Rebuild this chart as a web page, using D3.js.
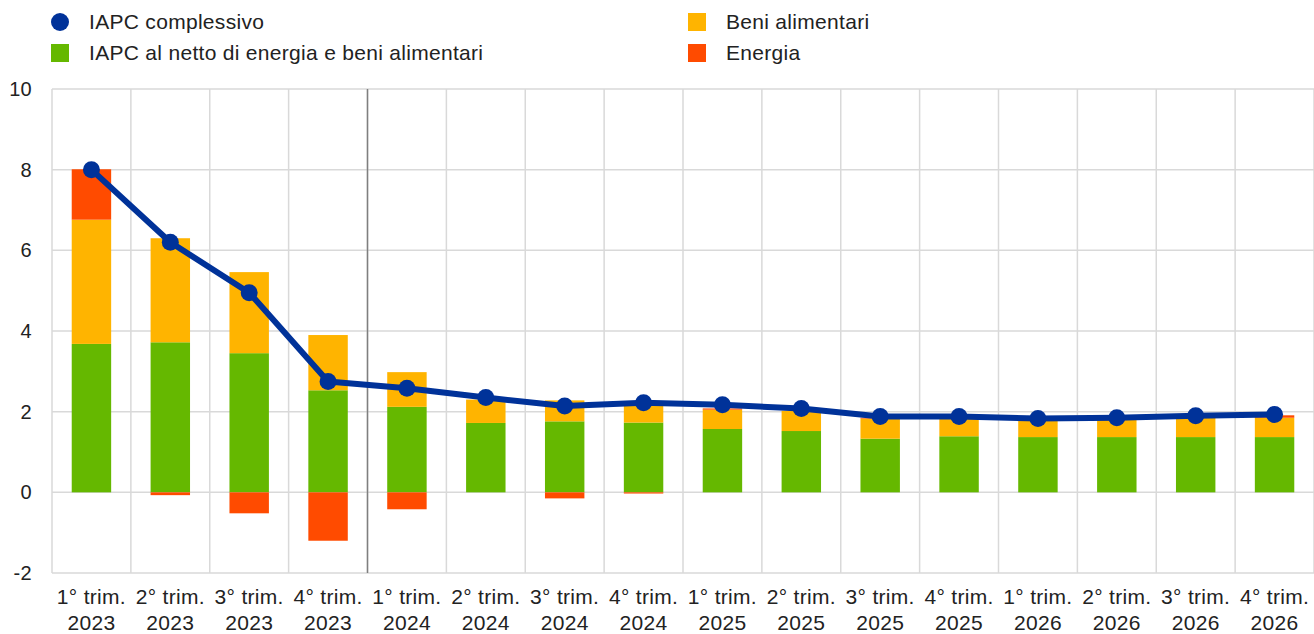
<!DOCTYPE html>
<html>
<head>
<meta charset="utf-8">
<script src="https://cdn.jsdelivr.net/npm/d3@7"></script>
<style>
  body { margin: 0; background: #fff; }
  svg text { font-family: "Liberation Sans", Arial, sans-serif; fill: #222; letter-spacing: 0.3px; }
</style>
</head>
<body>
<svg id="chart"></svg>
<script>
const quarters = ["1° trim.", "2° trim.", "3° trim.", "4° trim.",
  "1° trim.", "2° trim.", "3° trim.", "4° trim.",
  "1° trim.", "2° trim.", "3° trim.", "4° trim.",
  "1° trim.", "2° trim.", "3° trim.", "4° trim."];
const years = ["2023", "2023", "2023", "2023", "2024", "2024", "2024", "2024",
  "2025", "2025", "2025", "2025", "2026", "2026", "2026", "2026"];
const core = [3.68, 3.72, 3.45, 2.53, 2.12, 1.72, 1.76, 1.73, 1.57, 1.52, 1.33, 1.39, 1.37, 1.37, 1.37, 1.37];
const food = [3.08, 2.58, 2.01, 1.37, 0.86, 0.58, 0.52, 0.47, 0.48, 0.5, 0.5, 0.47, 0.43, 0.45, 0.5, 0.48];
const energy = [1.25, -0.07, -0.52, -1.2, -0.42, 0, -0.15, -0.03, 0.03, 0, 0.02, 0, 0, 0, 0, 0.06];
const headline = [8.0, 6.2, 4.95, 2.75, 2.58, 2.35, 2.14, 2.22, 2.17, 2.08, 1.88, 1.88, 1.83, 1.85, 1.9, 1.93];
const yTicks = [-2, 0, 2, 4, 6, 8, 10];

const W = 1314, H = 634;
const margin = { top: 89, right: 0, bottom: 61, left: 52 };
const width = W - margin.left - margin.right,
  height = H - margin.top - margin.bottom;

const colors = { headline: "#003299", core: "#65B800", food: "#FFB400", energy: "#FF4B00" };

const svg = d3.select("#chart").attr("width", W).attr("height", H);
const g = svg.append("g").attr("transform", `translate(${margin.left},${margin.top})`);

const idx = d3.range(quarters.length);
const x = d3.scaleBand().domain(idx).range([0, width]).paddingInner(0.5).paddingOuter(0.25);
const y = d3.scaleLinear().domain([-2, 10]).range([height, 0]);
const step = x.step();

// griglia
yTicks.forEach((t) => {
  g.append("line").attr("x1", 0).attr("x2", width)
    .attr("y1", y(t)).attr("y2", y(t))
    .attr("stroke", "#d9d9d9").attr("stroke-width", 1.5);
  g.append("text").attr("x", -20).attr("y", y(t)).attr("dy", "0.35em")
    .attr("text-anchor", "end").attr("font-size", "20px").text(t);
});
d3.range(quarters.length + 1).forEach((i) => {
  g.append("line").attr("x1", i * step).attr("x2", i * step)
    .attr("y1", 0).attr("y2", height)
    .attr("stroke", "#d9d9d9").attr("stroke-width", 1.5);
});
// separatore proiezioni
g.append("line").attr("x1", 4 * step).attr("x2", 4 * step)
  .attr("y1", 0).attr("y2", height)
  .attr("stroke", "#7f7f7f").attr("stroke-width", 1.5);

// barre impilate
idx.forEach((i) => {
  const parts = [["core", core[i]], ["food", food[i]], ["energy", energy[i]]];
  let pos = 0, neg = 0;
  parts.forEach(([k, v]) => {
    if (v === 0) return;
    let y0, y1;
    if (v > 0) { y0 = pos; y1 = pos + v; pos = y1; }
    else { y0 = neg; y1 = neg + v; neg = y1; }
    g.append("rect")
      .attr("x", x(i)).attr("width", x.bandwidth())
      .attr("y", y(Math.max(y0, y1)))
      .attr("height", Math.abs(y(y0) - y(y1)))
      .attr("fill", colors[k]);
  });
});

// linea IAPC complessivo
const line = d3.line().x((d, i) => x(i) + x.bandwidth() / 2).y((d) => y(d));
g.append("path").datum(headline).attr("d", line)
  .attr("fill", "none").attr("stroke", colors.headline).attr("stroke-width", 6)
  .attr("stroke-linejoin", "round");
g.selectAll(".dot").data(headline).enter().append("circle")
  .attr("cx", (d, i) => x(i) + x.bandwidth() / 2).attr("cy", (d) => y(d))
  .attr("r", 8.5).attr("fill", colors.headline);

// etichette asse x
idx.forEach((i) => {
  const cx = x(i) + x.bandwidth() / 2;
  g.append("text").attr("x", cx).attr("y", height + 31)
    .attr("text-anchor", "middle").attr("font-size", "21px").text(quarters[i]);
  g.append("text").attr("x", cx).attr("y", height + 57)
    .attr("text-anchor", "middle").attr("font-size", "21px").text(years[i]);
});

// legenda
const legend = [
  { label: "IAPC complessivo", color: colors.headline, shape: "circle", lx: 60, ly: 22 },
  { label: "IAPC al netto di energia e beni alimentari", color: colors.core, shape: "rect", lx: 60, ly: 53 },
  { label: "Beni alimentari", color: colors.food, shape: "rect", lx: 697, ly: 22 },
  { label: "Energia", color: colors.energy, shape: "rect", lx: 697, ly: 53 }
];
legend.forEach((d) => {
  if (d.shape === "circle") {
    svg.append("circle").attr("cx", d.lx).attr("cy", d.ly).attr("r", 9).attr("fill", d.color);
  } else {
    svg.append("rect").attr("x", d.lx - 9).attr("y", d.ly - 9).attr("width", 18).attr("height", 18).attr("fill", d.color);
  }
  svg.append("text").attr("x", d.lx + 29).attr("y", d.ly).attr("dy", "0.35em")
    .attr("font-size", "21px").text(d.label);
});
</script>
</body>
</html>
